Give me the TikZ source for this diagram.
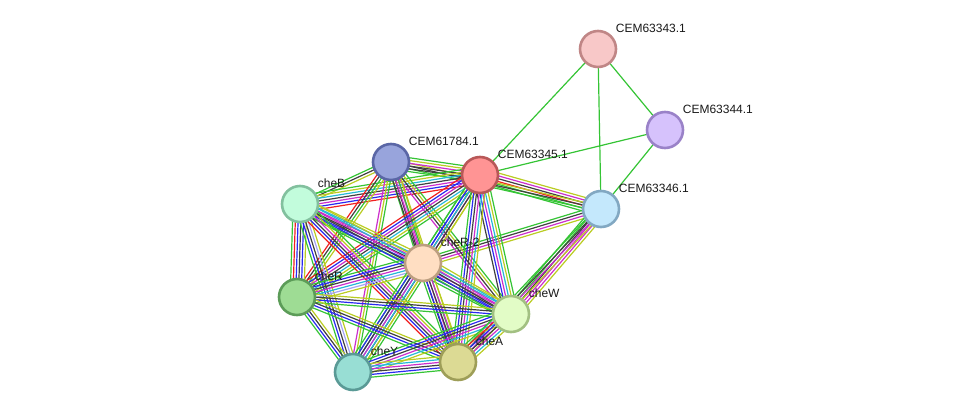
\documentclass[tikz,border=0pt]{standalone}
\usepackage{fontspec}
\setmainfont{Liberation Sans}
\usepackage{xcolor}
\usepackage{tikz}
\usetikzlibrary{calc,backgrounds}
% evidence channel colours
\definecolor{nbh}{HTML}{35C435}
\definecolor{fus}{HTML}{F02020}
\definecolor{coo}{HTML}{2A2AF0}
\definecolor{cex}{HTML}{404040}
\definecolor{expr}{HTML}{CC2ECC}
\definecolor{dbs}{HTML}{26B8D6}
\definecolor{txt}{HTML}{BACC22}
\definecolor{hom}{HTML}{A4A4F4}
% node colours
\definecolor{pinkFill}{HTML}{F8C8C8}\definecolor{pinkLine}{HTML}{C08686}
\definecolor{lilacFill}{HTML}{D6C2FC}\definecolor{lilacLine}{HTML}{9A82C8}
\definecolor{slateFill}{HTML}{98A4DC}\definecolor{slateLine}{HTML}{5A66A6}
\definecolor{redFill}{HTML}{FF9494}\definecolor{redLine}{HTML}{B85858}
\definecolor{skyFill}{HTML}{C4E8FC}\definecolor{skyLine}{HTML}{82A8C2}
\definecolor{mintFill}{HTML}{C2FCDC}\definecolor{mintLine}{HTML}{82C09E}
\definecolor{peachFill}{HTML}{FFDEC2}\definecolor{peachLine}{HTML}{BC9E80}
\definecolor{greenFill}{HTML}{9EDC94}\definecolor{greenLine}{HTML}{5C9C58}
\definecolor{limeFill}{HTML}{E2FCC6}\definecolor{limeLine}{HTML}{A2C082}
\definecolor{tealFill}{HTML}{98DED4}\definecolor{tealLine}{HTML}{5A9A96}
\definecolor{khakiFill}{HTML}{DCDA94}\definecolor{khakiLine}{HTML}{9E9E58}

% one evidence line per colour, spread side by side
\newcommand\bundle[3]{%
  \def\nb{0}%
  \foreach \c in {#3}{\xdef\nb{\the\numexpr\nb+1\relax}}%
  \foreach \c [count=\k] in {#3}{%
    \pgfmathsetmacro\off{(\k-(\nb+1)/2)*2.75}%
    \draw[link,draw=\c] ($(#1.center)!\off pt!90:(#2.center)$) -- ($(#2.center)!\off pt!-90:(#1.center)$);
  }}

\begin{document}
\begin{tikzpicture}[
  x=1pt, y=-1pt,
  font=\fontsize{12}{14}\selectfont,
  protein/.style={
    circle,
    minimum size=36pt,
    inner sep=0pt,
    line width=2.6pt
  },
  name tag/.style={
    anchor=south west,
    inner sep=1pt,
    xshift=3pt,
    yshift=2pt,
    text=black!90
  },
  link/.style={
    line width=1.2pt
  }
]
\useasboundingbox (0,0) rectangle (976,418);

% Proteins
\node[protein, fill=pinkFill, draw=pinkLine, label={[name tag]45:CEM63343.1}] (p43) at (598,49) {};
\node[protein, fill=lilacFill, draw=lilacLine, label={[name tag]45:CEM63344.1}] (p44) at (665,130) {};
\node[protein, fill=slateFill, draw=slateLine, label={[name tag]45:CEM61784.1}] (p84) at (391,162) {};
\node[protein, fill=redFill, draw=redLine, label={[name tag]45:CEM63345.1}] (p45) at (480,175) {};
\node[protein, fill=skyFill, draw=skyLine, label={[name tag]45:CEM63346.1}] (p46) at (601,209) {};
\node[protein, fill=mintFill, draw=mintLine, label={[name tag]45:cheB}] (cheB) at (300,204) {};
\node[protein, fill=peachFill, draw=peachLine, label={[name tag]45:cheR-2}] (cheR2) at (423,263) {};
\node[protein, fill=greenFill, draw=greenLine, label={[name tag]45:cheR}] (cheR) at (297,297) {};
\node[protein, fill=limeFill, draw=limeLine, label={[name tag]45:cheW}] (cheW) at (511,314) {};
\node[protein, fill=tealFill, draw=tealLine, label={[name tag]45:cheY}] (cheY) at (353,372) {};
\node[protein, fill=khakiFill, draw=khakiLine, label={[name tag]45:cheA}] (cheA) at (458,362) {};

% Interactions
\begin{pgfonlayer}{background}
\bundle{p43}{p45}{nbh}
\bundle{p43}{p46}{nbh}
\bundle{p43}{p44}{nbh}
\bundle{p44}{p45}{nbh}
\bundle{p44}{p46}{nbh}
\bundle{p45}{p46}{nbh,nbh,fus,cex,expr,txt}
\bundle{p84}{p46}{nbh,cex,txt}
\bundle{p46}{cheR2}{nbh,cex,expr,txt}
\bundle{p46}{cheW}{nbh,nbh,cex,expr,expr,txt}
\bundle{p46}{cheA}{nbh,cex,expr,txt}
\bundle{p84}{p45}{nbh,cex,cex,expr,txt,nbh}
\bundle{p84}{cheB}{nbh,cex,txt}
\bundle{cheB}{p45}{fus,coo,expr,cex,dbs,txt,nbh}
\bundle{p84}{cheR2}{nbh,cex,expr,txt}
\bundle{p84}{cheR}{fus,cex,nbh,txt}
\bundle{p84}{cheW}{expr,cex,txt,nbh}
\bundle{p84}{cheY}{expr,txt,nbh}
\bundle{p84}{cheA}{cex,expr,nbh,txt}
\bundle{p45}{cheR2}{nbh,coo,cex,expr,txt}
\bundle{p45}{cheR}{fus,coo,expr,cex,dbs,txt,nbh}
\bundle{p45}{cheW}{cex,coo,expr,dbs,txt,nbh}
\bundle{p45}{cheY}{nbh,coo,dbs,cex,txt}
\bundle{p45}{cheA}{nbh,coo,cex,expr,dbs,txt}
\bundle{cheB}{cheR2}{nbh,coo,cex,expr,dbs,txt}
\bundle{cheB}{cheR}{nbh,fus,coo,cex,coo,txt}
\bundle{cheB}{cheW}{nbh,coo,cex,expr,dbs,txt}
\bundle{cheB}{cheY}{nbh,coo,cex,hom,txt}
\bundle{cheB}{cheA}{fus,coo,cex,expr,txt,nbh}
\bundle{cheR2}{cheR}{nbh,coo,cex,expr,dbs,hom,txt}
\bundle{cheR2}{cheW}{nbh,coo,cex,expr,dbs,txt}
\bundle{cheR2}{cheY}{nbh,coo,cex,expr,dbs,txt,nbh}
\bundle{cheR2}{cheA}{nbh,coo,cex,expr,txt}
\bundle{cheR}{cheW}{nbh,coo,cex,txt}
\bundle{cheR}{cheY}{nbh,coo,cex,txt}
\bundle{cheR}{cheA}{nbh,coo,cex,txt}
\bundle{cheW}{cheY}{nbh,coo,cex,expr,dbs,txt}
\bundle{cheW}{cheA}{nbh,fus,coo,cex,expr,dbs,txt}
\bundle{cheY}{cheA}{nbh,coo,cex,expr,dbs,txt}
\end{pgfonlayer}

\end{tikzpicture}
\end{document}
